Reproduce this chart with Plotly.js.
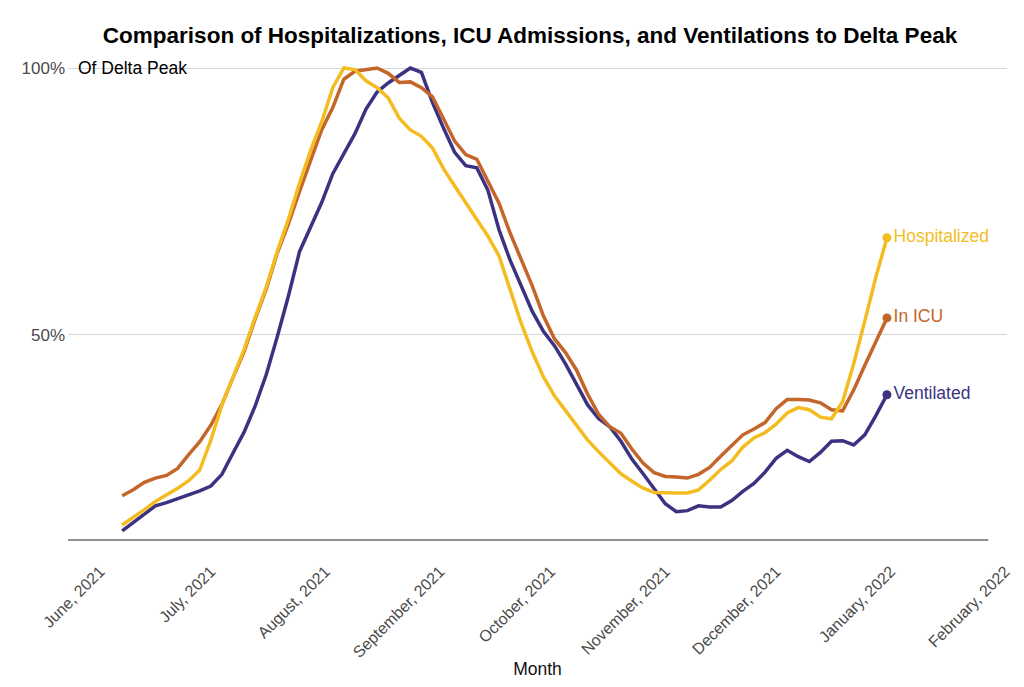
<!DOCTYPE html>
<html>
<head>
<meta charset="utf-8">
<script src="https://cdn.plot.ly/plotly-3.0.1.min.js"></script>
<style>html,body{margin:0;padding:0;background:#fff;}#chart{width:1024px;height:687px;}</style>
</head>
<body>
<div id="chart"></div>
<script>
const dates = [
"2021-06-07","2021-06-10","2021-06-13","2021-06-16","2021-06-19","2021-06-22","2021-06-25","2021-06-28","2021-07-01","2021-07-04",
"2021-07-07","2021-07-10","2021-07-13","2021-07-16","2021-07-19","2021-07-22","2021-07-25","2021-07-28","2021-07-31","2021-08-03",
"2021-08-06","2021-08-09","2021-08-12","2021-08-15","2021-08-18","2021-08-21","2021-08-24","2021-08-27","2021-08-30","2021-09-02",
"2021-09-05","2021-09-08","2021-09-11","2021-09-14","2021-09-17","2021-09-20","2021-09-23","2021-09-26","2021-09-29","2021-10-02",
"2021-10-05","2021-10-08","2021-10-11","2021-10-14","2021-10-17","2021-10-20","2021-10-23","2021-10-26","2021-10-29","2021-11-01",
"2021-11-04","2021-11-07","2021-11-10","2021-11-13","2021-11-16","2021-11-19","2021-11-22","2021-11-25","2021-11-28","2021-12-01",
"2021-12-04","2021-12-07","2021-12-10","2021-12-13","2021-12-16","2021-12-19","2021-12-22","2021-12-25","2021-12-28","2021-12-31"
];
const hospitalized = [
14.4,15.8,17.3,18.8,20.0,21.3,22.7,24.7,30.3,36.9,
42.1,47.3,53.3,59.0,65.7,71.7,78.4,84.6,89.9,96.3,
100,99.7,97.6,96.3,94.4,90.6,88.4,87.2,85.0,81.1,
77.9,74.7,71.7,68.5,64.8,58.4,52.2,46.8,42.2,38.6,
35.8,33.1,30.3,28.1,26.1,24.0,22.6,21.3,20.5,20.4,
20.4,20.4,21.0,22.8,24.8,26.4,29.0,30.7,31.7,33.3,
35.4,36.4,36.0,34.6,34.3,37.5,44.6,52.6,60.8,68.2
];
const inICU = [
19.9,21.0,22.4,23.2,23.7,25.0,27.6,30.0,33.1,37.0,
42.0,46.9,53.0,58.6,65.4,70.8,76.9,82.8,88.4,92.6,
97.9,99.4,99.7,100,99.0,97.3,97.4,96.3,94.6,90.6,
86.3,83.8,82.9,78.8,74.7,69.1,64.1,59.2,53.6,49.3,
46.7,43.4,38.9,35.1,32.8,31.6,28.6,26.0,24.2,23.5,
23.4,23.2,23.9,25.2,27.3,29.3,31.3,32.4,33.6,36.2,
37.9,37.9,37.8,37.3,36.0,35.8,39.7,44.3,48.8,53.2
];
const ventilated = [
13.3,14.8,16.5,18.0,18.6,19.3,20.0,20.8,21.7,23.9,
27.9,31.8,36.7,42.6,49.7,57.3,65.6,70.4,74.8,80.2,
84.1,87.7,92.3,95.5,97.2,98.6,100,99.2,93.5,88.7,
84.2,81.7,81.3,77.1,69.7,64.0,59.3,54.4,50.7,48.0,
44.6,40.8,36.9,34.3,32.8,30.1,26.7,24.0,21.2,18.4,
16.9,17.1,18.0,17.8,17.8,19.0,20.7,22.2,24.3,26.9,
28.4,27.2,26.3,28.0,30.1,30.2,29.4,31.3,34.9,38.8
];
const seriesNames = ["Hospitalized","In ICU","Ventilated"];
const seriesColors = ["#F3BD22","#C4652A","#3B3382"];
const monthTicks = ["2021-06-01","2021-07-01","2021-08-01","2021-09-01","2021-10-01","2021-11-01","2021-12-01","2022-01-01","2022-02-01"];
const monthLabels = ["June, 2021","July, 2021","August, 2021","September, 2021","October, 2021","November, 2021","December, 2021","January, 2022","February, 2022"];
const yTicks = [50, 100];
const yLabels = ["50%", "100%"];

const FONT = "Liberation Sans, Arial, sans-serif";
const allSeries = [hospitalized, inICU, ventilated];
const traces = [];
[2,1,0].forEach(i => {
  traces.push({
    x: dates, y: allSeries[i], type: "scatter", mode: "lines",
    line: {color: seriesColors[i], width: 3.5}, name: seriesNames[i], hoverinfo: "x+y"
  });
});
[0,1,2].forEach(i => {
  const n = allSeries[i].length;
  traces.push({
    x: [dates[n-1]], y: [allSeries[i][n-1]], type: "scatter", mode: "markers+text",
    marker: {color: seriesColors[i], size: 9},
    text: [seriesNames[i]], textposition: "middle right",
    textfont: {family: FONT, size: 17.5, color: seriesColors[i]},
    showlegend: false, cliponaxis: false
  });
});

const layout = {
  width: 1024, height: 687,
  margin: {l: 68, r: 17, t: 60, b: 147},
  paper_bgcolor: "#fff", plot_bgcolor: "#fff",
  showlegend: false,
  font: {family: FONT, color: "#444"},
  title: {text: "<b>Comparison of Hospitalizations, ICU Admissions, and Ventilations to Delta Peak</b>",
          font: {family: FONT, size: 22.5, color: "#000"},
          xref: "container", x: 0.5176, xanchor: "center", yref: "container", y: 0.949, yanchor: "middle"},
  xaxis: {
    type: "date", range: ["2021-05-23 08:00", "2022-02-01 12:00"],
    tickmode: "array", tickvals: monthTicks, ticktext: monthLabels, tickangle: -45,
    tickfont: {family: FONT, size: 16, color: "#4a4a4a"},
    ticklabelstandoff: 18,
    showgrid: false, zeroline: false, showline: false, ticks: "",
    title: {text: "Month", font: {family: FONT, size: 17.5, color: "#111"}, standoff: 2}
  },
  yaxis: {
    range: [11.6, 101.5], tickmode: "array", tickvals: yTicks, ticktext: yLabels,
    tickfont: {family: FONT, size: 17, color: "#4a4a4a"},
    showgrid: true, gridcolor: "#d6d6d6", gridwidth: 1, zeroline: false, showline: false, ticks: "",
    ticklabelstandoff: 2
  },
  shapes: [{type: "line", xref: "paper", yref: "paper", x0: 0, x1: 0.98, y0: 0, y1: 0,
            line: {color: "#222", width: 1.2}}],
  annotations: [{xref: "paper", yref: "y", x: 0, y: 100, xanchor: "left", yanchor: "middle",
                 xshift: 8, text: "Of Delta Peak", showarrow: false,
                 font: {family: FONT, size: 17.5, color: "#000"}}]
};
Plotly.newPlot("chart", traces, layout, {displayModeBar: false, staticPlot: true});
</script>
</body>
</html>
